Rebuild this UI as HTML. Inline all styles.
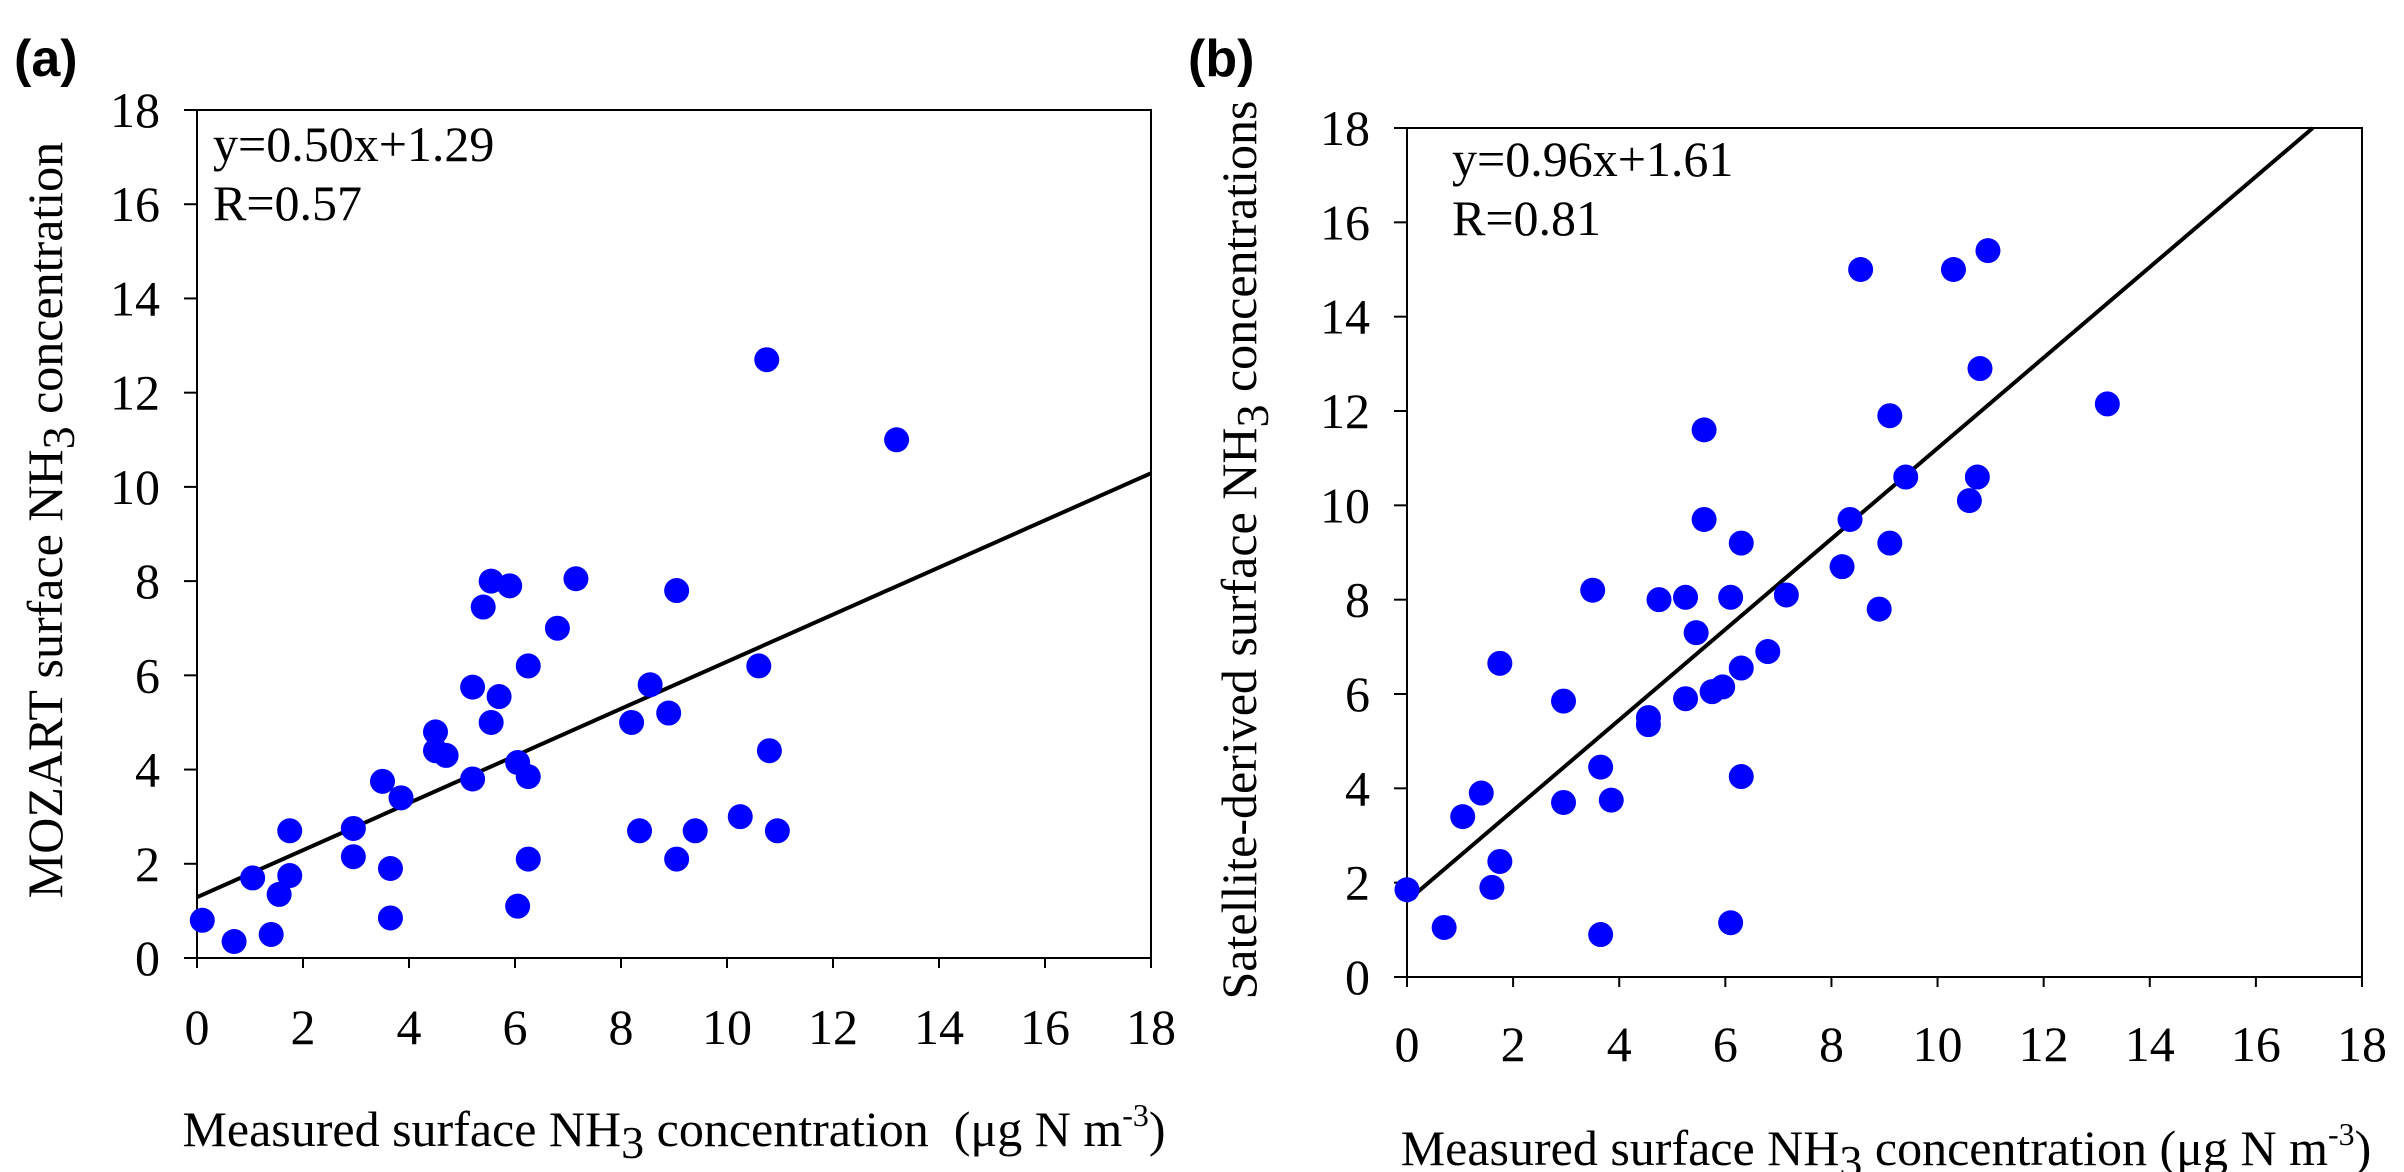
<!DOCTYPE html>
<html><head><meta charset="utf-8"><style>
html,body{margin:0;padding:0;background:#fff;}
svg{display:block;font-family:"Liberation Serif",serif;}
</style></head><body>
<svg id="chart" width="2404" height="1172" viewBox="0 0 2404 1172">
<text x="14" y="76" font-family="Liberation Sans, sans-serif" font-weight="bold" font-size="52">(a)</text>
<text x="1188" y="76" font-family="Liberation Sans, sans-serif" font-weight="bold" font-size="52">(b)</text>
<g id="pa"></g>
<g id="pb"></g>
</svg>
<script>
const ticks=[0,2,4,6,8,10,12,14,16,18];
const aX=[0.1,0.7,1.05,1.4,1.55,1.75,1.75,2.95,2.95,3.5,3.65,3.65,3.85,4.5,4.5,4.7,5.2,5.2,5.4,5.55,5.55,5.7,5.9,6.05,6.05,6.25,6.25,6.25,6.8,7.15,8.2,8.35,8.55,8.9,9.05,9.05,9.4,10.25,10.6,10.75,10.8,10.95,13.2];
const aY=[0.8,0.35,1.7,0.5,1.35,1.75,2.7,2.75,2.15,3.75,1.9,0.85,3.4,4.8,4.4,4.3,5.75,3.8,7.45,8.0,5.0,5.55,7.9,4.15,1.1,6.2,3.85,2.1,7.0,8.05,5.0,2.7,5.8,5.2,7.8,2.1,2.7,3.0,6.2,12.7,4.4,2.7,11.0];
const bX=[0,0.7,1.05,1.4,1.6,1.75,1.75,2.95,2.95,3.5,3.65,3.65,3.85,4.55,4.55,4.75,5.25,5.25,5.45,5.6,5.6,5.75,5.95,6.1,6.1,6.3,6.3,6.3,6.8,7.15,8.2,8.35,8.55,8.9,9.1,9.1,9.4,10.3,10.6,10.75,10.8,10.95,13.2];
const bY=[1.85,1.05,3.4,3.9,1.9,2.45,6.65,5.85,3.7,8.2,4.45,0.9,3.75,5.5,5.35,8.0,8.05,5.9,7.3,11.6,9.7,6.05,6.15,8.05,1.15,9.2,6.55,4.25,6.9,8.1,8.7,9.7,15.0,7.8,11.9,9.2,10.6,15.0,10.1,10.6,12.9,15.4,12.15];
const aFit=[0.50,1.29];
const bFit=[0.96,1.61];
const NS='http://www.w3.org/2000/svg';
function mk(p,t,a){const e=document.createElementNS(NS,t);for(const k in a)e.setAttribute(k,a[k]);p.appendChild(e);return e;}
function panel(g,o){
  const sx=v=>o.L+(v/18)*(o.R-o.L), sy=v=>o.B-(v/18)*(o.B-o.T);
  const fr=mk(g,'rect',{x:o.L,y:o.T,width:o.R-o.L,height:o.B-o.T,fill:'none',stroke:'#000','stroke-width':2});
  
  ticks.forEach(t=>{
    const xt=mk(g,'line',{x1:sx(t),x2:sx(t),y1:o.B,y2:o.B+10,stroke:'#000','stroke-width':2});
    
    const yt=mk(g,'line',{x1:o.L-13,x2:o.L,y1:sy(t),y2:sy(t),stroke:'#000','stroke-width':2});
    
    const xl=mk(g,'text',{x:sx(t),y:o.xlY,'text-anchor':'middle','font-size':50});xl.textContent=t;
    
    const yl=mk(g,'text',{x:o.ylX,y:sy(t)+17,'text-anchor':'end','font-size':50});yl.textContent=t;
    
  });
  const m=o.fit[0],c=o.fit[1];let x2=18,y2=m*18+c;if(y2>18){y2=18;x2=(18-c)/m;}
  const ln=mk(g,'line',{x1:sx(0),y1:sy(c),x2:sx(x2),y2:sy(y2),stroke:'#000','stroke-width':4});
  
  o.xs.forEach((x,i)=>{const d=mk(g,'circle',{cx:sx(x),cy:sy(o.ys[i]),r:12.5,fill:'#0000ff'});
    });
  const eq=mk(g,'text',{x:o.eqX,y:o.eqY,'font-size':50});eq.textContent='y='+m.toFixed(2)+'x+'+c.toFixed(2);
  
  const r=mk(g,'text',{x:o.eqX,y:o.eqY+59,'font-size':50});r.textContent=o.rtxt;
  
  const xt=mk(g,'text',{x:o.xtX,y:o.xtY,'text-anchor':'middle','font-size':50});
  xt.innerHTML='Measured surface NH<tspan dy="12" font-size="46">3</tspan><tspan dy="-12"> concentration'+o.gap+'(μg N m</tspan><tspan dy="-20" font-size="32">-3</tspan><tspan dy="20">)</tspan>';
  
  const yt=mk(g,'text',{x:0,y:0,'text-anchor':'middle','font-size':50,transform:'translate('+o.ytX+','+o.ytY+') rotate(-90)'});
  yt.innerHTML=o.ypre+' NH<tspan dy="12" font-size="46">3</tspan><tspan dy="-12"> '+o.ypost+'</tspan>';
  
}
panel(document.getElementById('pa'),{L:197,R:1151,T:110,B:958,xs:aX,ys:aY,fit:aFit,xlY:1044,ylX:160,eqX:213,eqY:161,rtxt:'R=0.57',xtX:674,xtY:1146,gap:'\u00a0\u00a0',ytX:62,ytY:520,ypre:'MOZART surface',ypost:'concentration'});
panel(document.getElementById('pb'),{L:1407,R:2362,T:128,B:977,xs:bX,ys:bY,fit:bFit,xlY:1061,ylX:1370,eqX:1452,eqY:176,rtxt:'R=0.81',xtX:1886,xtY:1165,gap:' ',ytX:1256,ytY:550,ypre:'Satellite-derived surface',ypost:'concentrations'});
</script>
</body></html>
